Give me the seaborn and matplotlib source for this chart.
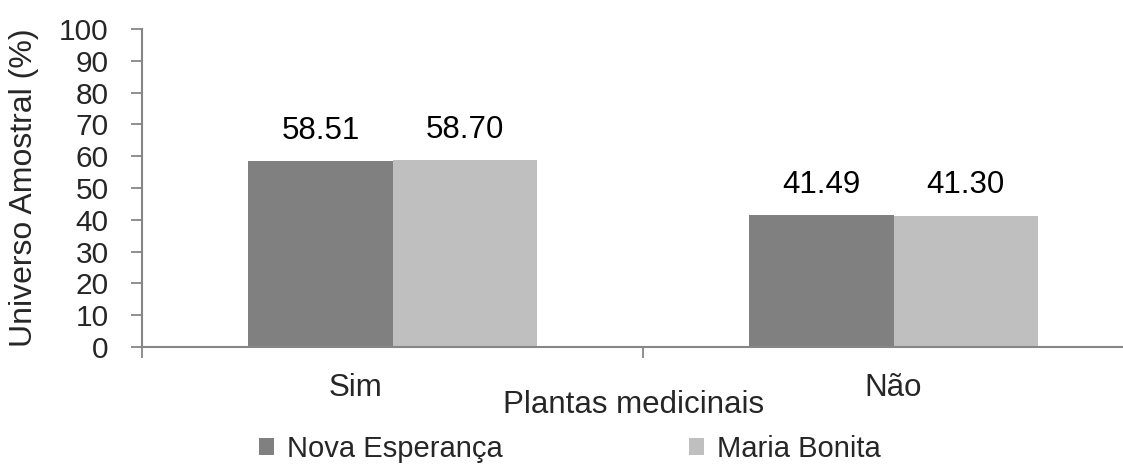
import matplotlib
matplotlib.use("Agg")
import matplotlib.pyplot as plt
import matplotlib.transforms as mtransforms
from matplotlib.patches import Patch
import seaborn as sns
import pandas as pd

# Survey answers: did the respondent use medicinal plants?
categorias = ["Sim", "Não"]
nova_esperanca = [58.51, 41.49]
maria_bonita = [58.70, 41.30]
locais = ["Nova Esperança", "Maria Bonita"]
cores = ["#808080", "#BFBFBF"]

df = pd.DataFrame({
    "categoria": categorias * 2,
    "local": [locais[0]] * 2 + [locais[1]] * 2,
    "valor": nova_esperanca + maria_bonita,
})

sns.set_theme(style="white")
plt.rcParams["font.family"] = ["Liberation Sans", "DejaVu Sans"]

fig = plt.figure(figsize=(11.23, 4.65), dpi=100)
ax = fig.add_axes([142 / 1123, 1 - 347 / 465, 1002 / 1123, (347 - 29) / 465])

sns.barplot(data=df, x="categoria", y="valor", hue="local", order=categorias,
            hue_order=locais, palette=cores, width=0.575, linewidth=0,
            saturation=1, legend=False, ax=ax)

for cont in ax.containers:
    ax.bar_label(cont, labels=[f"{v:.2f}" for v in cont.datavalues],
                 padding=11, fontsize=22.5, color="#000000")

ax.set_xlim(-0.5, 1.5)
ax.set_ylim(0, 100)
ax.set_yticks(range(0, 101, 10))
ax.tick_params(axis="y", which="major", length=8, width=1.3, color="#868686",
               labelsize=21.5, pad=16, direction="out", left=True)
ax.set_xticks([0, 1])
ax.set_xticklabels(categorias)
ax.set_xticks([-0.5, 0.5, 1.5], minor=True)
ax.tick_params(axis="x", which="major", length=0, labelsize=22.5, pad=19)
ax.tick_params(axis="x", which="minor", length=8, width=1.3, color="#868686",
               direction="out", bottom=True)

# nudge the first category label to the left
sim_lbl = ax.get_xticklabels()[0]
sim_lbl.set_transform(sim_lbl.get_transform() +
                      mtransforms.ScaledTranslation(-0.37, 0, fig.dpi_scale_trans))

for side in ("top", "right"):
    ax.spines[side].set_visible(False)
for side in ("left", "bottom"):
    ax.spines[side].set_color("#868686")
    ax.spines[side].set_linewidth(1.5)

ax.set_ylabel("Universo Amostral (%)", fontsize=23)
ax.yaxis.set_label_coords(-103 / 1002, 0.5)
ax.set_xlabel("")
fig.text(634 / 1123, 1 - 405 / 465, "Plantas medicinais", fontsize=22.5,
         ha="center", va="center")

handles = [Patch(facecolor=c, edgecolor="none") for c in cores]
fig.legend(handles, locais, loc="center", bbox_to_anchor=(570 / 1123, 1 - 449 / 465),
           ncol=2, frameon=False, fontsize=21, handlelength=0.5, handleheight=0.5,
           handletextpad=0.45, columnspacing=6.4, borderpad=0)

fig.savefig("out.png", dpi=100, facecolor="white")
